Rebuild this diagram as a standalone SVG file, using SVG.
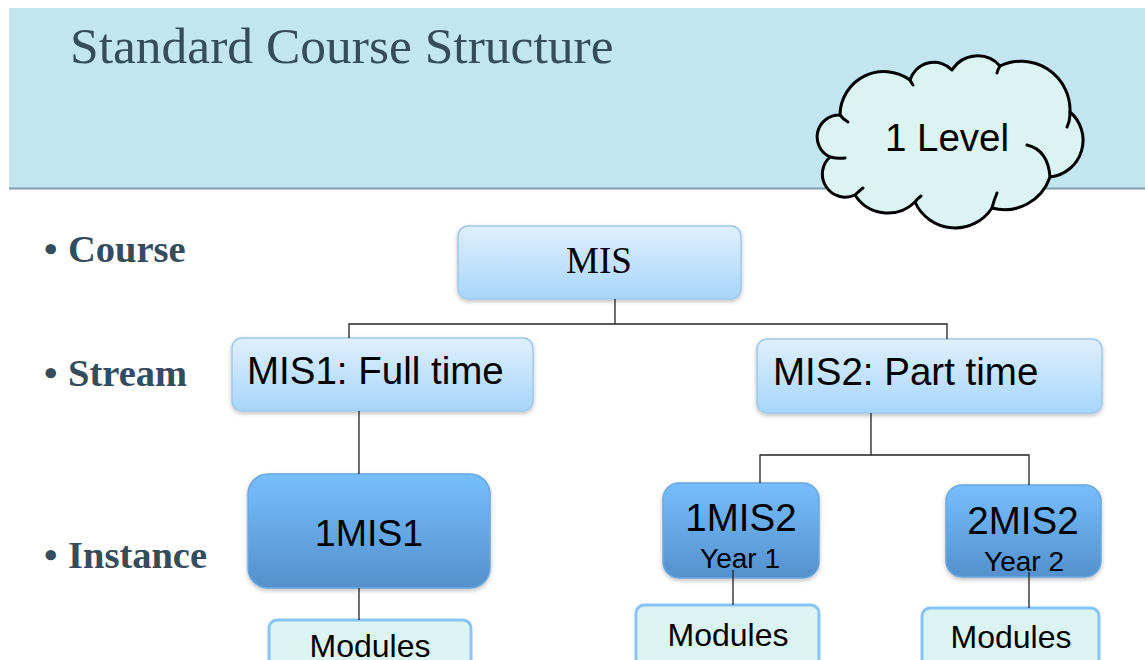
<svg xmlns="http://www.w3.org/2000/svg" width="1145" height="660" viewBox="0 0 1145 660">
<defs>
<linearGradient id="gLight" x1="0" y1="0" x2="0" y2="1">
<stop offset="0" stop-color="#e0f0fd"/>
<stop offset="1" stop-color="#a6d5fb"/>
</linearGradient>
<linearGradient id="gDark" x1="0" y1="0" x2="0" y2="1">
<stop offset="0" stop-color="#76befe"/>
<stop offset="1" stop-color="#5490cc"/>
</linearGradient>
<filter id="sh" x="-10%" y="-10%" width="120%" height="130%">
<feDropShadow dx="0" dy="2" stdDeviation="2" flood-color="#000" flood-opacity="0.25"/>
</filter>
<style>
.title{font-family:"Liberation Serif","Times New Roman",serif;font-size:51.5px;fill:#344c5c}
.bul{font-family:"Liberation Serif","Times New Roman",serif;font-size:38.5px;font-weight:bold;fill:#344c5c}
.lt{fill:url(#gLight);stroke:#a0c8ea;stroke-width:1.5;filter:url(#sh)}
.dk{fill:url(#gDark);stroke:#6aa6de;stroke-width:1.5;filter:url(#sh)}
.mod{fill:#dcf4f1;stroke:#86c3f7;stroke-width:3}
.sans{font-family:"Liberation Sans",Arial,sans-serif;fill:#000}
.serif{font-family:"Liberation Serif","Times New Roman",serif;fill:#000}
.con{fill:none;stroke:#222;stroke-width:1.3}
.cloud{fill:#dcf4f1;stroke:#000;stroke-width:3;stroke-linejoin:round}
.cl{fill:none;stroke:#000;stroke-width:3;stroke-linecap:round}
</style>
</defs>
<rect width="1145" height="660" fill="#fff"/>
<g id="header">
<rect x="9" y="8" width="1136" height="180" fill="#c2e5f0"/>
<line x1="9" y1="188.5" x2="1145" y2="188.5" stroke="#7c9db0" stroke-width="2"/>
<text class="title" x="70" y="63">Standard Course Structure</text>
</g>
<g id="cloud">
<path class="cloud" d="M 840,115 A 44,44 0 0 1 910,80 A 25,25 0 0 1 952,70 A 30,30 0 0 1 1000,66 A 49,49 0 0 1 1070,112 A 37,37 0 0 1 1050,177 A 48,48 0 0 1 992,208 A 44,44 0 0 1 915,202 A 39,39 0 0 1 855,195 A 23,23 0 0 1 830,157 A 22,22 0 0 1 840,115 Z"/>
<path class="cl" d="M 840,115 Q 843,119 848,122"/>
<path class="cl" d="M 910,80 Q 911,82 913,85"/>
<path class="cl" d="M 1000,66 Q 998,69 997,73"/>
<path class="cl" d="M 1070,112 Q 1070,121 1067,127"/>
<path class="cl" d="M 1027,145 Q 1048,150 1050,177"/>
<path class="cl" d="M 992,208 Q 994,200 997,193"/>
<path class="cl" d="M 915,202 Q 917,199 921,196"/>
<path class="cl" d="M 855,195 Q 859,191 863,188"/>
<path class="cl" d="M 830,157 Q 838,159 845,158"/>
<text class="sans" x="947" y="151" font-size="38.5" text-anchor="middle">1 Level</text>
</g>
<g id="bullets">
<text class="bul" x="44" y="262">•<tspan x="68">Course</tspan></text>
<text class="bul" x="44" y="386">•<tspan x="68">Stream</tspan></text>
<text class="bul" x="44" y="568">•<tspan x="68">Instance</tspan></text>
</g>
<g id="node-mis">
<rect class="lt" x="458" y="226" width="283" height="73" rx="10"/>
<text class="serif" x="599" y="273" font-size="37" text-anchor="middle">MIS</text>
</g>
<g id="node-mis1">
<rect class="lt" x="232" y="338" width="301" height="73" rx="10"/>
<text class="sans" x="247" y="384" font-size="38.5">MIS1: Full time</text>
</g>
<g id="node-mis2">
<rect class="lt" x="757" y="339" width="345" height="74" rx="10"/>
<text class="sans" x="773" y="385" font-size="38.5">MIS2: Part time</text>
</g>
<g id="node-1mis1">
<rect class="dk" x="248" y="474" width="242" height="114" rx="20"/>
<text class="sans" x="369" y="546" font-size="37.5" text-anchor="middle">1MIS1</text>
</g>
<g id="node-1mis2">
<rect class="dk" x="663" y="483" width="156" height="95" rx="16"/>
<text class="sans" x="741" y="531" font-size="38.5" text-anchor="middle">1MIS2</text>
<text class="sans" x="740" y="568" font-size="28" text-anchor="middle">Year 1</text>
</g>
<g id="node-2mis2">
<rect class="dk" x="946" y="485" width="155" height="92" rx="16"/>
<text class="sans" x="1023" y="534" font-size="38.5" text-anchor="middle">2MIS2</text>
<text class="sans" x="1024" y="571" font-size="28" text-anchor="middle">Year 2</text>
</g>
<g id="node-modules1">
<rect class="mod" x="269" y="620" width="202" height="60" rx="8"/>
<text class="sans" x="370" y="657" font-size="32" text-anchor="middle">Modules</text>
</g>
<g id="node-modules2">
<rect class="mod" x="636" y="605" width="183" height="70" rx="8"/>
<text class="sans" x="728" y="646" font-size="32" text-anchor="middle">Modules</text>
</g>
<g id="node-modules3">
<rect class="mod" x="922" y="608" width="177" height="70" rx="8"/>
<text class="sans" x="1011" y="648" font-size="32" text-anchor="middle">Modules</text>
</g>
<g id="connectors">
<path class="con" d="M 615,299 V 324 M 349,338 V 324 H 947 V 339"/>
<path class="con" d="M 359,411 V 474"/>
<path class="con" d="M 359,588 V 620"/>
<path class="con" d="M 871,413 V 455 M 760,483 V 455 H 1029 V 485"/>
<path class="con" d="M 733,570 V 605"/>
<path class="con" d="M 1029,572 V 608"/>
</g>
</svg>
